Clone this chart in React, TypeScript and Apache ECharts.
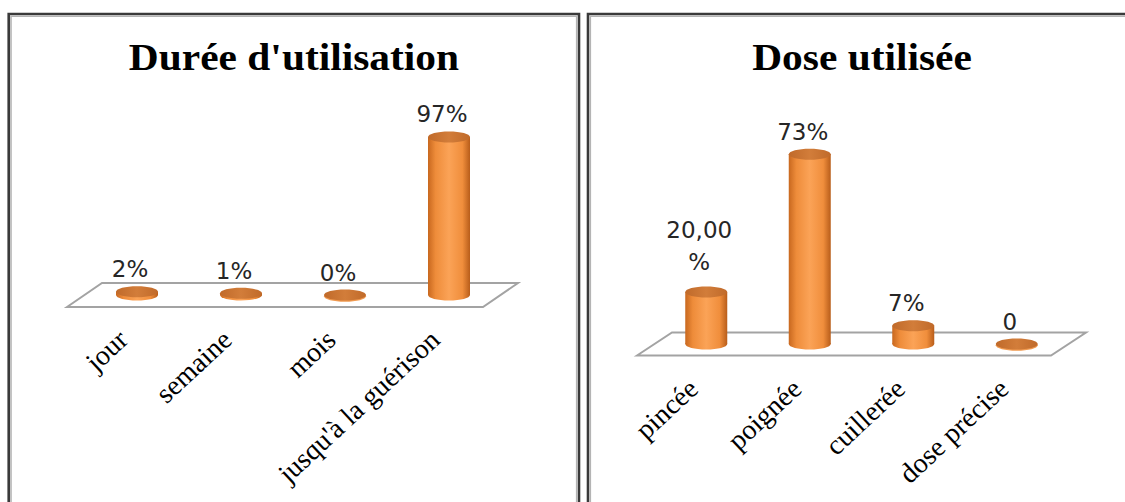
import React, { useEffect, useRef } from "react";
import * as echarts from "echarts";

// ---- data ----
const durationTitle = "Durée d'utilisation";
const durationCategories = ["jour", "semaine", "mois", "jusqu'à la guérison"];
const durationValues = [2, 1, 0, 97];
const durationLabels = ["2%", "1%", "0%", "97%"];

const doseTitle = "Dose utilisée";
const doseCategories = ["pincée", "poignée", "cuillerée", "dose précise"];
const doseValues = [20, 73, 7, 0];
const doseLabels = ["20,00\n%", "73%", "7%", "0"];

// ---- layout ----
const W = 1125;
const H = 502;
const LEFT = { left: 85, width: 416, zeroY: 295, top: 132, max: 100 };
const RIGHT = { left: 654.5, width: 414, zeroY: 344, top: 136, max: 80 };
const LABEL_SHIFT = 14;

const bodyFill = {
  type: "linear",
  x: 0,
  y: 0,
  x2: 1,
  y2: 0,
  colorStops: [
    { offset: 0, color: "#c8681f" },
    { offset: 0.18, color: "#ee8c3a" },
    { offset: 0.5, color: "#fba357" },
    { offset: 0.82, color: "#f08e3c" },
    { offset: 1, color: "#b85d1a" },
  ],
};
const topFill = {
  type: "linear",
  x: 0,
  y: 0,
  x2: 1,
  y2: 0,
  colorStops: [
    { offset: 0, color: "#c06a2a" },
    { offset: 0.5, color: "#d27d3a" },
    { offset: 1, color: "#c06a2a" },
  ],
};

function cylinder(labels: string[]) {
  return (params: any, api: any) => {
    const idx = params.dataIndex;
    const cat = api.value(0);
    const v = api.value(1);
    const base = api.coord([cat, 0]);
    const top = api.coord([cat, v]);
    const cx = base[0];
    const rx = 21;
    const ry = 5.5;
    const h = base[1] - top[1];
    const children: any[] = [];
    if (h > 0.5) {
      children.push({
        type: "ellipse",
        shape: { cx, cy: base[1], rx, ry },
        style: { fill: bodyFill },
      });
      children.push({
        type: "rect",
        shape: { x: cx - rx, y: top[1], width: rx * 2, height: h },
        style: { fill: bodyFill },
      });
    } else {
      children.push({
        type: "ellipse",
        shape: { cx, cy: base[1] + 1.2, rx, ry },
        style: { fill: "#f09a50" },
      });
    }
    children.push({
      type: "ellipse",
      shape: { cx, cy: top[1], rx, ry },
      style: { fill: topFill },
    });
    const label = labels[idx];
    const lines = label.split("\n").length;
    children.push({
      type: "text",
      style: {
        text: label,
        x: cx - 7,
        y: top[1] - 22.5 - (lines - 1) * 23.5,
        align: "center",
        verticalAlign: "middle",
        fontFamily: "DejaVu Sans",
        fontSize: 23,
        lineHeight: 32,
        fill: "#262626",
      },
    });
    return { type: "group", children };
  };
}

function gridOf(g: any, shift: number) {
  return {
    left: g.left - shift,
    width: g.width,
    top: g.top,
    height: g.zeroY - g.top,
  };
}

function floor(g: any, dy: number, back: number, front: number) {
  const l = g.left;
  const r = g.left + g.width;
  const y = g.zeroY;
  return {
    type: "polygon",
    shape: {
      points: [
        [l - front, y + dy],
        [l + back, y - dy],
        [r + back, y - dy],
        [r - front, y + dy],
      ],
    },
    style: { fill: "#ffffff", stroke: "#a3a3a3", lineWidth: 2 },
  };
}

function frame(x1: number, x2: number) {
  return [
    {
      type: "rect",
      shape: { x: x1, y: 14, width: x2 - x1, height: 700 },
      style: { fill: "none", stroke: "#3a3a3a", lineWidth: 2.6 },
    },
    {
      type: "rect",
      shape: { x: x1 + 2.3, y: 16.3, width: x2 - x1 - 4.6, height: 700 },
      style: { fill: "none", stroke: "#b4b4b4", lineWidth: 1.6 },
    },
  ];
}

const labelAxis = (gridIndex: number, data: string[]) => ({
  type: "category",
  gridIndex,
  data,
  boundaryGap: true,
  axisLine: { show: false },
  axisTick: { show: false },
  splitLine: { show: false },
  axisLabel: {
    interval: 0,
    rotate: 43,
    margin: 40,
    fontFamily: "Liberation Serif",
    fontSize: 28,
    color: "#000000",
  },
});

const hiddenCat = (gridIndex: number, data: string[]) => ({
  type: "category",
  gridIndex,
  data,
  boundaryGap: true,
  show: false,
});

const hiddenVal = (gridIndex: number, max: number) => ({
  type: "value",
  gridIndex,
  min: 0,
  max,
  show: false,
});

export default function App() {
  const ref = useRef<HTMLDivElement>(null);
  useEffect(() => {
    if (!ref.current) return;
    const chart = echarts.init(ref.current, null, { renderer: "svg" });
    const option: any = {
      animation: false,
      backgroundColor: "#ffffff",
      grid: [
        gridOf(LEFT, 0),
        gridOf(RIGHT, 0),
        gridOf(LEFT, LABEL_SHIFT),
        gridOf(RIGHT, LABEL_SHIFT - 1),
      ],
      xAxis: [
        hiddenCat(0, durationCategories),
        hiddenCat(1, doseCategories),
        labelAxis(2, durationCategories),
        labelAxis(3, doseCategories),
      ],
      yAxis: [
        hiddenVal(0, LEFT.max),
        hiddenVal(1, RIGHT.max),
        hiddenVal(2, LEFT.max),
        hiddenVal(3, RIGHT.max),
      ],
      graphic: [
        ...frame(8.7, 579),
        ...frame(588, 1200),
        floor(LEFT, 12, 17, 18),
        floor(RIGHT, 11.5, 17.5, 17.5),
        {
          type: "text",
          x: 294,
          y: 57,
          scaleX: 1.12,
          style: {
            text: durationTitle,
            align: "center",
            verticalAlign: "middle",
            fontFamily: "Liberation Serif",
            fontWeight: "bold",
            fontSize: 37,
            fill: "#000000",
          },
        },
        {
          type: "text",
          x: 862,
          y: 57,
          scaleX: 1.12,
          style: {
            text: doseTitle,
            align: "center",
            verticalAlign: "middle",
            fontFamily: "Liberation Serif",
            fontWeight: "bold",
            fontSize: 37,
            fill: "#000000",
          },
        },
      ],
      series: [
        {
          type: "custom",
          name: durationTitle,
          xAxisIndex: 0,
          yAxisIndex: 0,
          renderItem: cylinder(durationLabels),
          data: durationValues.map((v, i) => [i, v]),
          encode: { x: 0, y: 1 },
          clip: false,
        },
        {
          type: "custom",
          name: doseTitle,
          xAxisIndex: 1,
          yAxisIndex: 1,
          renderItem: cylinder(doseLabels),
          data: doseValues.map((v, i) => [i, v]),
          encode: { x: 0, y: 1 },
          clip: false,
        },
      ],
    };
    chart.setOption(option);
    return () => chart.dispose();
  }, []);
  return (
    <div
      ref={ref}
      style={{
        position: "fixed",
        left: 0,
        top: 0,
        width: W,
        height: H,
        background: "#ffffff",
      }}
    />
  );
}
